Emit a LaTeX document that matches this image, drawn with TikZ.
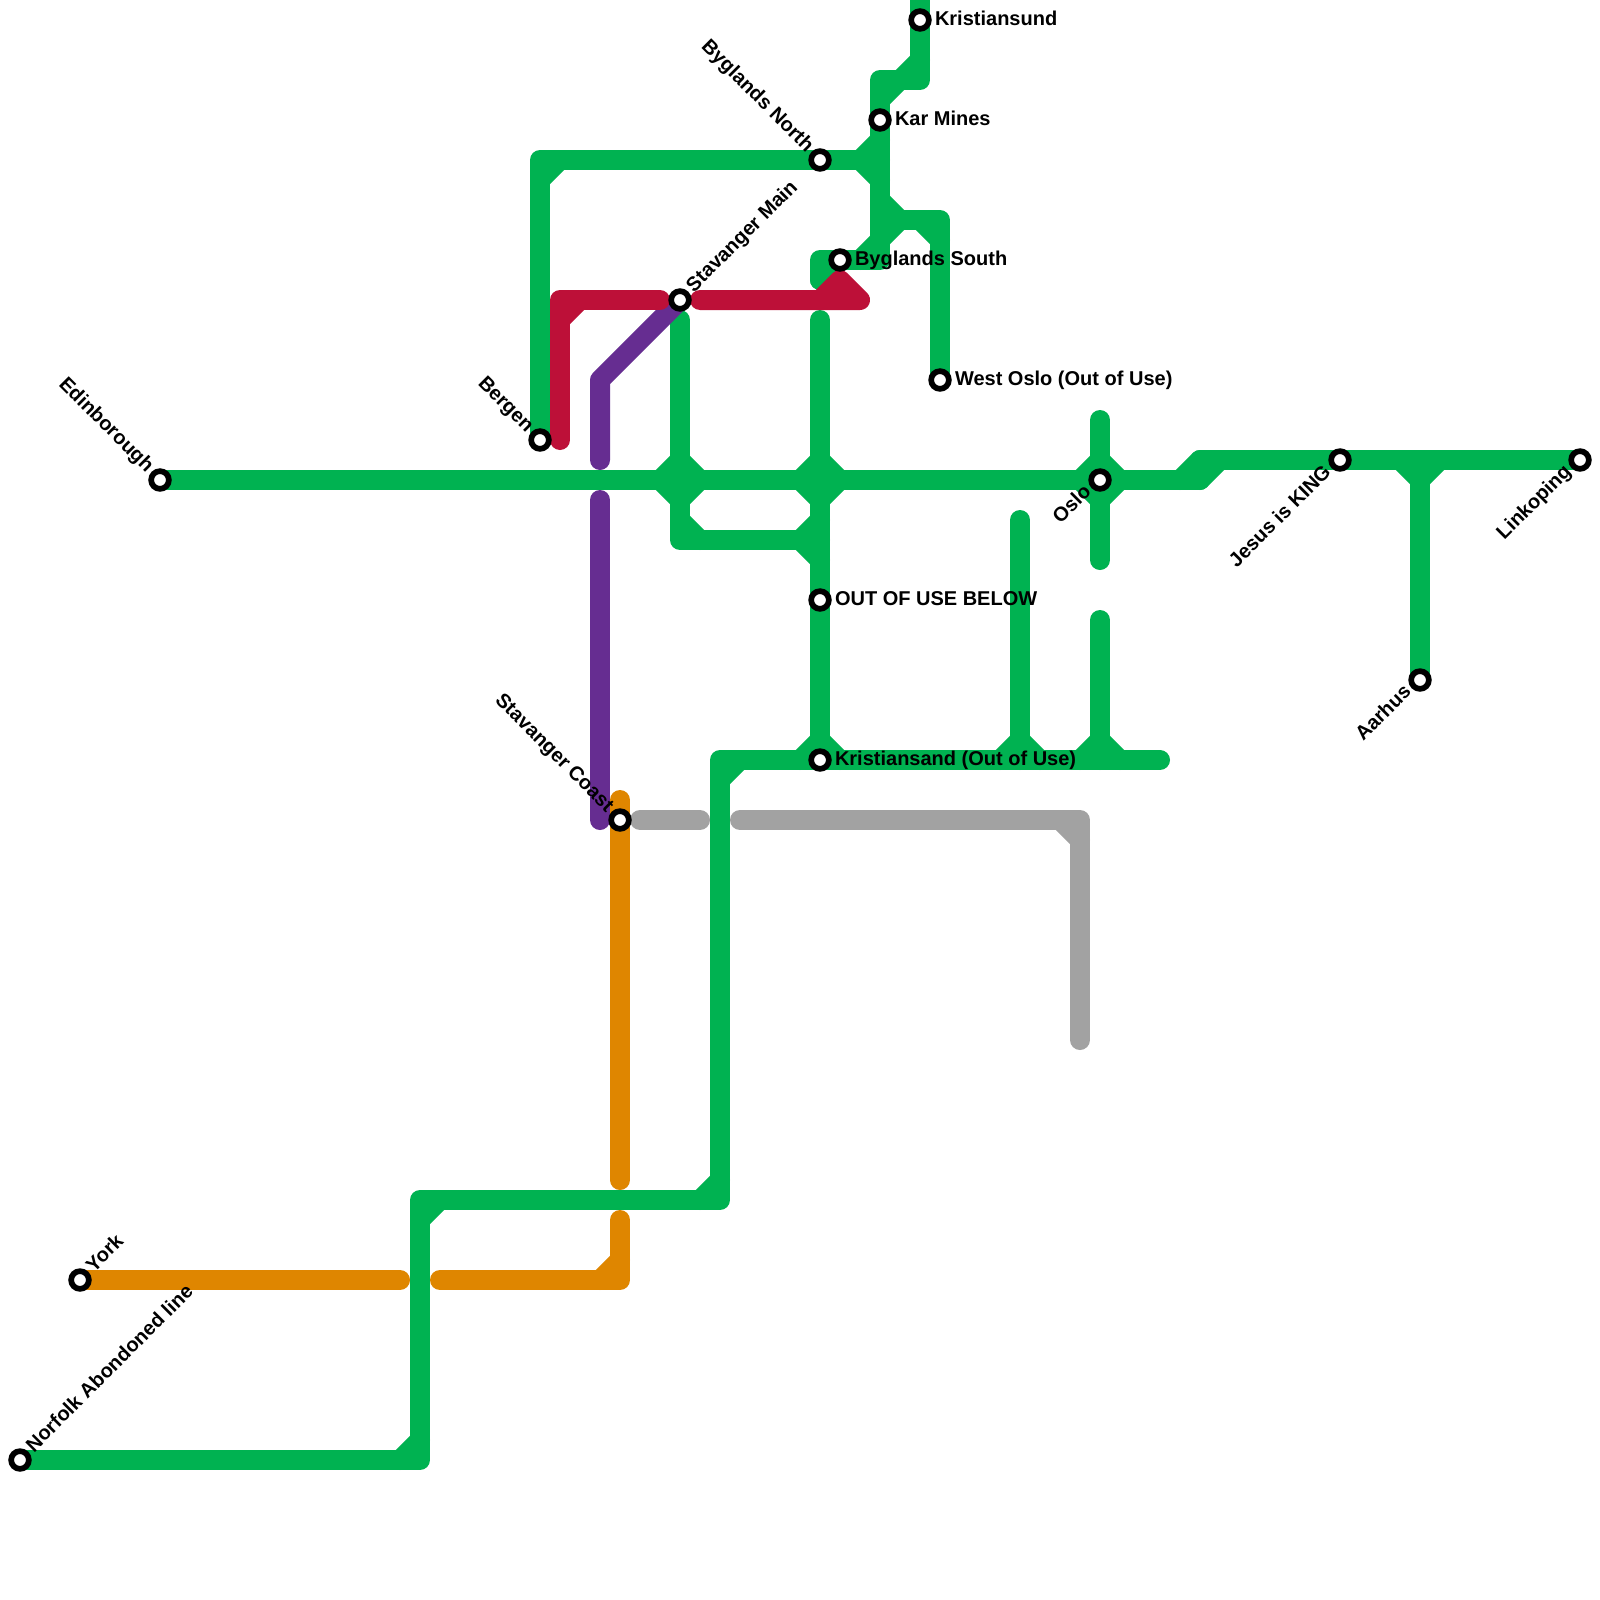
\documentclass[tikz,border=0pt]{standalone}
\usepackage{fontspec}
\setmainfont{Liberation Sans}[BoldFont={Liberation Sans Bold}]
\definecolor{lgreen}{HTML}{00B251}
\definecolor{lred}{HTML}{BD1038}
\definecolor{lpurple}{HTML}{662D91}
\definecolor{lorange}{HTML}{DF8600}
\definecolor{lgrey}{HTML}{A2A2A2}
\tikzset{
  metro/.style={line width=20pt,line cap=round,line join=round},
  gl/.style={metro,draw=lgreen},
  rl/.style={metro,draw=lred},
  pl/.style={metro,draw=lpurple},
  ol/.style={metro,draw=lorange},
  al/.style={metro,draw=lgrey},
  stn/.style={circle,draw=black,fill=white,line width=5.7pt,minimum size=17.7pt,inner sep=0pt,outer sep=0pt},
  lab/.style={font=\fontsize{20}{24}\selectfont\bfseries,text=black,inner sep=0pt,outer sep=0pt},
  rlab/.style={lab,anchor=base west},
  uplab/.style={lab,anchor=base west,rotate=45},
  ullab/.style={lab,anchor=base east,rotate=-45},
  dllab/.style={lab,anchor=base east,rotate=45},
}
\begin{document}
\begin{tikzpicture}[x=1pt,y=-1pt]
\useasboundingbox[fill=white] (0,0) rectangle (1600,1600);
% station positions
\coordinate (Pnorfolk) at (20,1460);
\coordinate (Pyork) at (80,1280);
\coordinate (Pedin) at (160,480);
\coordinate (Pbergen) at (540,440);
\coordinate (Pstavm) at (680,300);
\coordinate (Pbygn) at (820,160);
\coordinate (Pkar) at (880,120);
\coordinate (Pkrsund) at (920,20);
\coordinate (Pbygs) at (840,260);
\coordinate (Pwest) at (940,380);
\coordinate (Pout) at (820,600);
\coordinate (Pkrsand) at (820,760);
\coordinate (Pstavc) at (620,820);
\coordinate (Poslo) at (1100,480);
\coordinate (Pjesus) at (1340,460);
\coordinate (Paarhus) at (1420,680);
\coordinate (Plink) at (1580,460);
% green
\draw[gl] (Pedin) -- (1200,480) -- (1200,460) -- (Plink);
\draw[gl] (1180,480) -- (1200,460) (1200,480) -- (1220,460);
\draw[gl] (680,320) -- (680,540) -- (820,540);
\draw[gl] (820,320) -- (Pkrsand);
\draw[gl] (660,480) -- (680,460) -- (700,480) -- (680,500) -- cycle;
\draw[gl] (800,480) -- (820,460) -- (840,480) -- (820,500) -- cycle;
\draw[gl] (1080,480) -- (1100,460) -- (1120,480) -- (1100,500) -- cycle;
\draw[gl] (680,520) -- (700,540) (800,540) -- (820,520) (800,540) -- (820,560);
\draw[gl] (Pnorfolk) -- (420,1460) -- (420,1200) -- (720,1200) -- (720,760) -- (1160,760);
\draw[gl] (400,1460) -- (420,1440) (420,1220) -- (440,1200) (700,1200) -- (720,1180) (720,780) -- (740,760);
\draw[gl] (800,760) -- (820,740) -- (840,760);
\draw[gl] (1020,520) -- (1020,760);
\draw[gl] (1000,760) -- (1020,740) -- (1040,760);
\draw[gl] (1100,620) -- (1100,760);
\draw[gl] (1080,760) -- (1100,740) -- (1120,760);
\draw[gl] (1100,420) -- (1100,560);
\draw[gl] (Pbergen) -- (540,160) -- (880,160);
\draw[gl] (540,180) -- (560,160);
\draw[gl] (860,160) -- (880,140) (860,160) -- (880,180);
\draw[gl] (920,0) -- (920,80) -- (880,80) -- (880,260) -- (820,260) -- (820,280);
\draw[gl] (880,100) -- (900,80) (900,80) -- (920,60);
\draw[gl] (860,260) -- (880,240) (820,280) -- (840,260);
\draw[gl] (880,220) -- (940,220) -- (Pwest);
\draw[gl] (880,200) -- (900,220) -- (880,240) (920,220) -- (940,240);
\draw[gl] (1420,460) -- (Paarhus);
\draw[gl] (1400,460) -- (1420,480) -- (1440,460);
% grey
\draw[al] (640,820) -- (700,820);
\draw[al] (740,820) -- (1080,820) -- (1080,1040);
\draw[al] (1060,820) -- (1080,840);
% orange
\draw[ol] (620,800) -- (620,1180);
\draw[ol] (620,1220) -- (620,1280) -- (440,1280);
\draw[ol] (600,1280) -- (620,1260);
\draw[ol] (Pyork) -- (400,1280);
% purple
\draw[pl] (600,460) -- (600,380) -- (Pstavm);
\draw[pl] (600,500) -- (600,820);
% red
\draw[rl] (560,440) -- (560,300) -- (660,300);
\draw[rl] (560,320) -- (580,300);
\draw[rl] (700,300) -- (860,300) -- (840,280) -- (820,300);
% stations
\foreach \nm/\pos in {norfolk/Pnorfolk,york/Pyork,edin/Pedin,bergen/Pbergen,stavm/Pstavm,bygn/Pbygn,kar/Pkar,krsund/Pkrsund,bygs/Pbygs,west/Pwest,out/Pout,krsand/Pkrsand,stavc/Pstavc,oslo/Poslo,jesus/Pjesus,aarhus/Paarhus,link/Plink}
  \node[stn] (\nm) at (\pos) {};
% labels
\node[rlab] (Lkrsund) at (935,26) {Kristiansund};
\node[rlab] (Lkar) at (895,125) {Kar Mines};
\node[rlab] (Lbygs) at (855,265) {Byglands South};
\node[rlab] (Lwest) at (955,385) {West Oslo (Out of Use)};
\node[rlab] (Lout) at (835,605) {OUT OF USE BELOW};
\node[rlab] (Lkrsand) at (835,765) {Kristiansand (Out of Use)};
\node[uplab] (Lstavm) at (694,293) {Stavanger Main};
\node[uplab] (Lyork) at (94,1273) {York};
\node[uplab] (Lnorfolk) at (34,1453) {Norfolk Abondoned line};
\node[ullab] (Lbygn) at (806,153) {Byglands North};
\node[ullab] (Lbergen) at (526,433) {Bergen};
\node[ullab] (Ledin) at (146,473) {Edinborough};
\node[ullab] (Lstavc) at (606,813) {Stavanger Coast};
\node[dllab] (Loslo) at (1092,493) {Oslo};
\node[dllab] (Ljesus) at (1332,473) {Jesus is KING};
\node[dllab] (Laarhus) at (1412,693) {Aarhus};
\node[dllab] (Llink) at (1572,473) {Linkoping};
\end{tikzpicture}
\end{document}
